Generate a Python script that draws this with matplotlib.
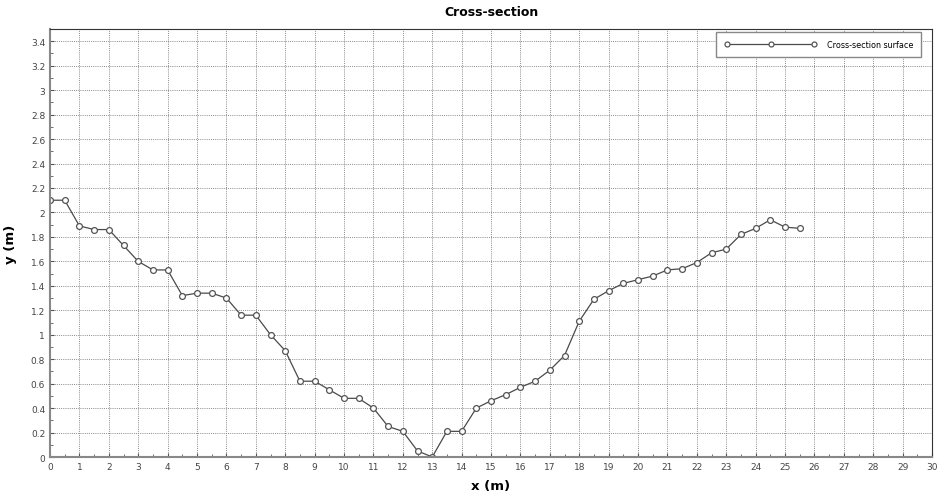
import numpy as np
import matplotlib
matplotlib.use("Agg")
import matplotlib.pyplot as plt
from matplotlib.ticker import MultipleLocator

# Surveyed cross-section: station (m) and elevation (m)
x_m = [0, 0.5, 1, 1.5, 2, 2.5, 3, 3.5, 4, 4.5, 5, 5.5, 6, 6.5, 7, 7.5, 8, 8.5,
       9, 9.5, 10, 10.5, 11, 11.5, 12, 12.5, 13, 13.5, 14, 14.5, 15, 15.5, 16,
       16.5, 17, 17.5, 18, 18.5, 19, 19.5, 20, 20.5, 21, 21.5, 22, 22.5, 23,
       23.5, 24, 24.5, 25, 25.5]
y_m = [2.10, 2.10, 1.89, 1.86, 1.86, 1.73, 1.60, 1.53, 1.53, 1.32, 1.34, 1.34,
       1.30, 1.16, 1.16, 1.00, 0.87, 0.62, 0.62, 0.55, 0.48, 0.48, 0.40, 0.25,
       0.21, 0.05, 0.00, 0.21, 0.21, 0.40, 0.46, 0.51, 0.57, 0.62, 0.71, 0.83,
       1.11, 1.29, 1.36, 1.42, 1.45, 1.48, 1.53, 1.54, 1.59, 1.67, 1.70, 1.82,
       1.87, 1.94, 1.88, 1.87]

fig = plt.figure(figsize=(9.4, 5.02), dpi=100)
ax = fig.add_axes([0.0532, 0.0876, 0.9383, 0.8526])

ax.plot(x_m, y_m, color="#4a4a4a", lw=0.9, marker="o", ms=4.2,
        mfc="white", mec="#555555", mew=0.9, label="Cross-section surface")

ax.set_xlim(0, 30)
ax.set_ylim(0, 3.5)
ax.xaxis.set_major_locator(MultipleLocator(1))
ax.xaxis.set_minor_locator(MultipleLocator(0.5))
ax.yaxis.set_major_locator(MultipleLocator(0.2))
ax.yaxis.set_minor_locator(MultipleLocator(0.1))
ax.yaxis.set_major_formatter(plt.FuncFormatter(lambda v, p: f"{v:g}"))

ax.grid(True, which="major", color="#8a8a8a", ls=(0, (1, 1.2)), lw=0.7)
ax.tick_params(which="both", direction="in", labelsize=6.5,
               labelcolor="#444444", color="#555555")
ax.tick_params(which="major", length=3)
ax.tick_params(which="minor", length=2)
for s in ax.spines.values():
    s.set_color("#333333")
    s.set_linewidth(0.8)
ax.spines["bottom"].set_color("#888888")
ax.spines["bottom"].set_linewidth(1.5)
ax.spines["left"].set_color("#888888")
ax.spines["left"].set_linewidth(1.5)

ax.set_title("Cross-section", fontsize=9, fontweight="bold", pad=10)
ax.set_xlabel("x (m)", fontsize=9.5, fontweight="bold", labelpad=6)
ax.set_ylabel("y (m)", fontsize=9.5, fontweight="bold", labelpad=10)

leg = ax.legend(loc="upper right", bbox_to_anchor=(0.9875, 0.993),
                borderaxespad=0, fontsize=5.8, numpoints=3,
                handlelength=11.5, handletextpad=1.2, borderpad=1.0,
                fancybox=False, framealpha=1, edgecolor="#888888",
                markerscale=0.85)
leg.get_frame().set_linewidth(1.0)

fig.savefig("out.png", dpi=100)
